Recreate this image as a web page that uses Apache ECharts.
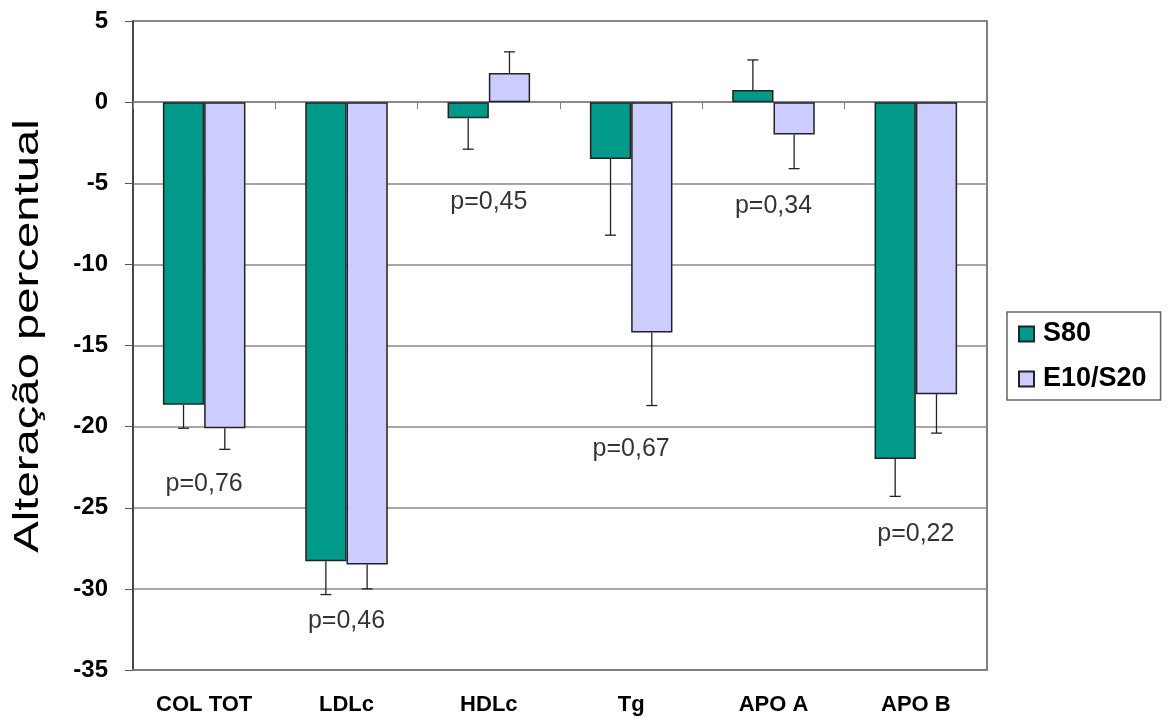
<!DOCTYPE html>
<html>
<head>
<meta charset="utf-8">
<script src="https://cdn.jsdelivr.net/npm/echarts@6/dist/echarts.min.js"></script>
<style>
  html, body { margin: 0; padding: 0; background: #fff; }
  #chart { width: 1171px; height: 720px; }
</style>
</head>
<body>
<div id="chart"></div>
<script>
// categorias e valores (alteração percentual)
const categories = ['COL TOT', 'LDLc', 'HDLc', 'Tg', 'APO A', 'APO B'];
const s80 = [-18.65, -28.3, -1.0, -3.5, 0.75, -22.0];
const s80Err = [1.45, 2.05, 1.9, 4.7, 1.85, 2.3];
const e10 = [-20.1, -28.5, 1.8, -14.2, -2.0, -18.0];
const e10Err = [1.3, 1.5, 1.3, 4.5, 2.1, 2.4];
const pLabels = ['p=0,76', 'p=0,46', 'p=0,45', 'p=0,67', 'p=0,34', 'p=0,22'];
const pLabelY = [-23.55, -32.0, -6.15, -21.4, -6.4, -26.6];
const yTicks = { min: -35, max: 5, interval: 5 };

const FONT = 'Arial, "Liberation Sans", sans-serif';
const GAP = 0.42;

const errSeries = (vals, errs, side) => ({
  type: 'custom',
  xAxisIndex: 0,
  z: 5,
  silent: true,
  data: vals.map((v, i) => [i, v, errs[i]]),
  encode: { x: 0, y: 1 },
  renderItem: (params, api) => {
    const ci = api.value(0), v = api.value(1), e = api.value(2);
    const end = v >= 0 ? v + e : v - e;
    const p0 = api.coord([ci, v]);
    const p1 = api.coord([ci, end]);
    const band = api.size([1, 0])[0];
    const bw = band * (1 - GAP) / 2;
    const x = p0[0] + side * bw / 2;
    const st = { stroke: '#222', lineWidth: 1.3 };
    return {
      type: 'group',
      children: [
        { type: 'line', shape: { x1: x, y1: p0[1], x2: x, y2: p1[1] }, style: st },
        { type: 'line', shape: { x1: x - 5.5, y1: p1[1], x2: x + 5.5, y2: p1[1] }, style: st }
      ]
    };
  }
});

const chart = echarts.init(document.getElementById('chart'));

chart.setOption({
  animation: false,
  textStyle: { fontFamily: FONT },
  grid: {
    left: 133, right: 184, top: 21, bottom: 50,
    show: true, borderColor: '#555', borderWidth: 1.5
  },
  legend: {
    data: ['S80', 'E10/S20'],
    orient: 'vertical',
    left: 1007, top: 312,
    padding: [7, 14, 6, 11],
    itemGap: 15,
    itemWidth: 15, itemHeight: 15,
    icon: 'rect',
    borderColor: '#666', borderWidth: 1.5,
    textStyle: { fontSize: 27, fontWeight: 'bold', color: '#000', lineHeight: 30, padding: [0, 0, 0, 4] }
  },
  xAxis: [
    {
      type: 'category',
      data: categories,
      position: 'bottom',
      axisLine: { onZero: false, lineStyle: { color: '#808080', width: 2 } },
      axisTick: { show: false },
      axisLabel: { fontSize: 22, fontWeight: 'bold', color: '#000', margin: 24, interval: 0 }
    },
    {
      type: 'category',
      data: categories,
      position: 'top',
      axisLine: { onZero: true, lineStyle: { color: '#808080', width: 1.5 } },
      axisTick: { show: true, inside: true, length: 7, lineStyle: { color: '#808080' } },
      axisLabel: { show: false }
    }
  ],
  yAxis: {
    type: 'value',
    min: yTicks.min, max: yTicks.max, interval: yTicks.interval,
    axisLine: { show: true, lineStyle: { color: '#333', width: 1.5 } },
    axisTick: { show: true, length: 8, lineStyle: { color: '#555' } },
    axisLabel: { fontSize: 24, fontWeight: 'bold', color: '#000', margin: 25 },
    splitLine: { show: true, lineStyle: { color: '#8a8a8a', width: 1.5 } }
  },
  graphic: [{
    type: 'text',
    x: 28, y: 336,
    rotation: Math.PI / 2,
    scaleX: 1.35,
    style: {
      text: 'Alteração percentual',
      font: '35px ' + FONT,
      fill: '#000',
      textAlign: 'center',
      textVerticalAlign: 'middle'
    }
  }],
  series: [
    {
      name: 'S80', type: 'bar', xAxisIndex: 0,
      data: s80,
      barGap: '0%', barCategoryGap: (GAP * 100) + '%',
      itemStyle: { color: '#00998a', borderColor: '#222', borderWidth: 1.5 }
    },
    {
      name: 'E10/S20', type: 'bar', xAxisIndex: 0,
      data: e10,
      itemStyle: { color: '#ccccff', borderColor: '#222', borderWidth: 1.5 }
    },
    errSeries(s80, s80Err, -1),
    errSeries(e10, e10Err, 1),
    {
      type: 'scatter', xAxisIndex: 0, symbolSize: 0, silent: true,
      data: pLabelY.map((y, i) => [i, y]),
      label: {
        show: true, position: 'inside',
        formatter: p => pLabels[p.dataIndex],
        fontSize: 25, color: '#000', textBorderWidth: 0
      }
    }
  ]
});
</script>
</body>
</html>
